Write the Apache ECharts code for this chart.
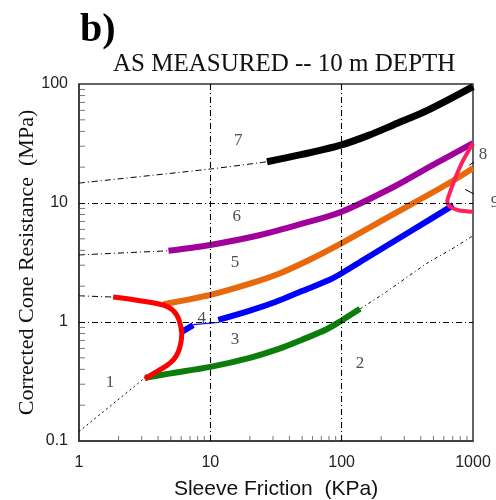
<!DOCTYPE html>
<html><head><meta charset="utf-8">
<script src="https://cdn.jsdelivr.net/npm/echarts@6/dist/echarts.min.js"></script>
<style>html,body{margin:0;padding:0;background:#fff}#c{width:496px;height:500px}</style>
</head><body><div id="c"></div>
<script>
// ---- data ----
const xMinorTicks = [2,3,4,5,6,7,8,9,20,30,40,50,60,70,80,90,200,300,400,500,600,700,800,900];
const yMinorTicks = [0.2,0.3,0.4,0.5,0.6,0.7,0.8,0.9,2,3,4,5,6,7,8,9,20,30,40,50,60,70,80,90];
const xGridLines  = [10,100];
const yGridLines  = [1,10];

const line7Thin  = [[1,14.7],[10,19.3],[27,22.2]];
const line7      = [[27,22.2],[50,25.6],[100,30.8],[160,37],[250,45.5],[450,60],[1000,95]];
const line6Thin  = [[1,3.66],[4.8,3.97]];
const line6      = [[4.8,3.97],[10,4.44],[24,5.38],[50,6.7],[100,8.45],[250,13.7],[500,21],[1000,31.8]];
const line5Thin  = [[1,1.66],[1.85,1.62]];
const line5      = [[4.4,1.41],[10,1.69],[20,2.1],[34,2.57],[57.5,3.35],[100,4.6],[250,8.1],[630,14.3],[1000,19.6]];
const line4a     = [[5.88,0.81],[7.4,0.94]];
const line4Thin  = [[7.4,0.95],[11.5,0.99]];
const line4b     = [[11.5,1.04],[20,1.245],[31.6,1.48],[50,1.82],[79.4,2.24],[100,2.57],[146,3.32],[332,5.76],[709,9.6]];
const line3      = [[3.18,0.34],[5,0.37],[10,0.42],[20,0.5],[34,0.6],[50,0.71],[77,0.87],[100,1.03],[138,1.29]];
const line3Tail  = [[138,1.29],[220,1.8],[445,3.11],[670,4.03],[1000,5.3]];
const line1Thin  = [[1,0.12],[3.18,0.34]];
const redCurve   = [[1.82,1.62],[2.91,1.51],[4.39,1.39],[5.08,1.28],[5.55,1.146],[5.88,0.975],[6.06,0.8],[5.98,0.68],[5.7,0.56],[5.23,0.48],[4.65,0.43],[4.02,0.39],[3.47,0.354],[3.18,0.33]];
const pinkCurve  = [[1000,31.8],[845,23],[731,16.1],[670,12.4],[638,10.3],[670,9.3],[774,8.7],[1000,8.45]];
const leader8    = [[939,20.8],[1132,23.9]];
const leader9    = [[871,13.0],[1188,10.9]];
const zoneNames  = ['1','2','3','4','5','6','7','8','9'];
const zonePos    = [[1.72,0.307],[138,0.45],[15.4,0.71],[8.6,1.06],[15.4,3.19],[15.9,7.7],[16.3,33.8],[1194,25.3],[1473,10]];

const dashDot = [6,3,1,3];
function thick(data, color, w){
  return {type:'line', data:data, symbol:'none', smooth:0.3, clip:false,
    lineStyle:{color:color, width:w||6, cap:'butt'}, silent:true, z:3};
}
function thin(data, color, type, w){
  return {type:'line', data:data, symbol:'none', smooth:0.2, clip:false,
    lineStyle:{color:color, width:w||1, type:type||dashDot}, silent:true, z:2};
}
// minor ticks drawn as thin rect symbols placed by the axes' own scales
function tickSeries(values, isX, len){
  return {type:'scatter', clip:false, silent:true, z:6, symbol:'rect',
    symbolSize: isX ? [1, len] : [len, 1],
    symbolOffset: isX ? [0, -len/2] : [len/2, 0],
    itemStyle:{color:'#555'},
    data: values.map(v => isX ? [v, 0.1] : [1, v])
  };
}
const fmt = v => String(v);

const gridSeries = thin(line7Thin,'#000');
gridSeries.markLine = {silent:true, symbol:['none','none'], animation:false,
  label:{show:false}, lineStyle:{color:'#000', width:1.1, type:dashDot},
  data: xGridLines.map(v => ({xAxis:v})).concat(yGridLines.map(v => ({yAxis:v})))};

const chart = echarts.init(document.getElementById('c'), null, {renderer:'canvas'});
chart.setOption({
  animation:false,
  backgroundColor:'#fff',
  title:[
    {text:'b)', left:75, top:6, textStyle:{fontFamily:'Liberation Serif', fontWeight:'bold', fontSize:40, color:'#000'}},
    {text:'AS MEASURED -- 10 m DEPTH', left:108, top:47, textStyle:{fontFamily:'Liberation Serif', fontWeight:'normal', fontSize:25, color:'#111'}}
  ],
  grid:{left:79, right:23, top:84, bottom:59, outerBoundsMode:'none', containLabel:false,
    show:true, borderColor:'#333', borderWidth:1.5, backgroundColor:'transparent'},
  xAxis:{type:'log', logBase:10, min:1, max:1000,
    name:'Sleeve Friction  (KPa)', nameLocation:'middle', nameGap:38, nameMoveOverlap:false,
    nameTextStyle:{fontFamily:'Liberation Sans', fontSize:21, color:'#111'},
    axisLine:{show:true, lineStyle:{color:'#333', width:1.5}},
    axisTick:{show:false},
    axisLabel:{fontFamily:'Liberation Sans', fontSize:16, color:'#222', margin:14, formatter:fmt},
    splitLine:{show:false}
  },
  yAxis:{type:'log', logBase:10, min:0.1, max:100,
    name:'Corrected Cone Resistance  (MPa)', nameLocation:'middle', nameGap:41, nameMoveOverlap:false,
    nameTextStyle:{fontFamily:'Liberation Serif', fontSize:22, color:'#111'},
    axisLine:{show:true, lineStyle:{color:'#333', width:1.5}},
    axisTick:{show:false},
    axisLabel:{fontFamily:'Liberation Sans', fontSize:16, color:'#222', margin:11, formatter:fmt},
    splitLine:{show:false}
  },
  series:[
    gridSeries,
    tickSeries(xMinorTicks, true, 5),
    tickSeries(yMinorTicks, false, 6),
    thin(line6Thin,'#000'),
    thin(line5Thin,'#000'),
    thin(line1Thin,'#000',[2,3]),
    thin(line3Tail,'#000',[3,3,1,3]),
    thin(line4Thin,'#0000ff','solid',1.2),
    thick(line7,'#000000',7),
    thick(line6,'#a0009b',6),
    thick(line5,'#e8680c',6),
    thick(line4a,'#0000ff',6),
    thick(line4b,'#0000ff',6),
    thick(line3,'#0a7d0a',6),
    thick(redCurve,'#ff0000',5),
    thick(pinkCurve,'#ff1f5a',4),
    {type:'line', data:leader8, symbol:'none', clip:false, lineStyle:{color:'#000', width:1}, z:4},
    {type:'line', data:leader9, symbol:'none', clip:false, lineStyle:{color:'#000', width:1}, z:4},
    {type:'scatter', clip:false, symbolSize:1, itemStyle:{color:'rgba(0,0,0,0)'}, silent:true,
      data:zoneNames.map((n,i)=>({name:n, value:zonePos[i]})),
      label:{show:true, position:'inside', formatter:'{b}', fontFamily:'Liberation Serif', fontSize:17, color:'#222'}, z:5}
  ]
});
</script></body></html>
